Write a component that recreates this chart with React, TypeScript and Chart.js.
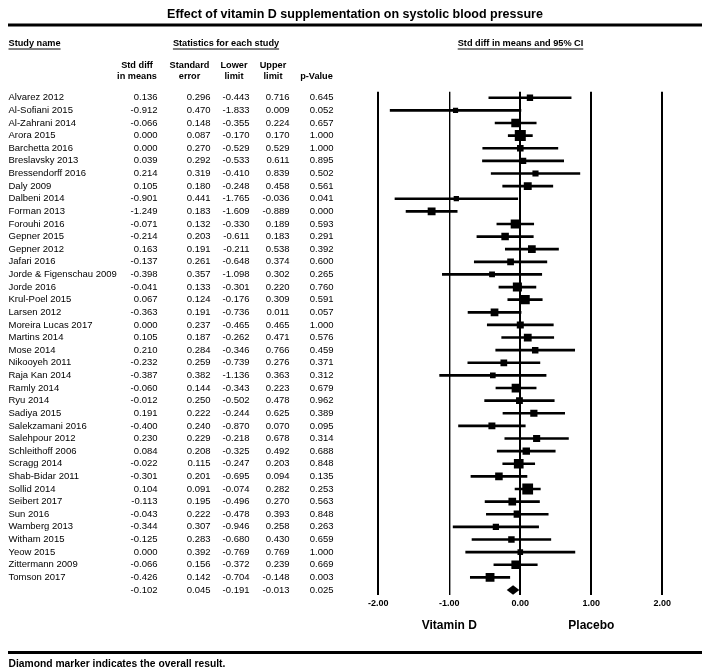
import React, { useEffect, useRef } from "react";
import { Chart, registerables } from "chart.js";

Chart.register(...registerables);

const TITLE = "Effect of vitamin D supplementation on systolic blood pressure";
const FOOTNOTE = "Diamond marker indicates the overall result.";

const studyNames = [
  "Alvarez 2012", "Al-Sofiani 2015", "Al-Zahrani 2014", "Arora 2015", "Barchetta 2016",
  "Breslavsky 2013", "Bressendorff 2016", "Daly 2009", "Dalbeni 2014", "Forman 2013",
  "Forouhi 2016", "Gepner 2015", "Gepner 2012", "Jafari 2016", "Jorde & Figenschau 2009",
  "Jorde 2016", "Krul-Poel 2015", "Larsen 2012", "Moreira Lucas 2017", "Martins 2014",
  "Mose 2014", "Nikooyeh 2011", "Raja Kan 2014", "Ramly 2014", "Ryu 2014",
  "Sadiya 2015", "Salekzamani 2016", "Salehpour 2012", "Schleithoff 2006", "Scragg 2014",
  "Shab-Bidar 2011", "Sollid 2014", "Seibert 2017", "Sun 2016", "Wamberg 2013",
  "Witham 2015", "Yeow 2015", "Zittermann 2009", "Tomson 2017",
];
const stdDiff = [
  0.136, -0.912, -0.066, 0.0, 0.0, 0.039, 0.214, 0.105, -0.901, -1.249,
  -0.071, -0.214, 0.163, -0.137, -0.398, -0.041, 0.067, -0.363, 0.0, 0.105,
  0.21, -0.232, -0.387, -0.06, -0.012, 0.191, -0.4, 0.23, 0.084, -0.022,
  -0.301, 0.104, -0.113, -0.043, -0.344, -0.125, 0.0, -0.066, -0.426,
];
const stdError = [
  0.296, 0.47, 0.148, 0.087, 0.27, 0.292, 0.319, 0.18, 0.441, 0.183,
  0.132, 0.203, 0.191, 0.261, 0.357, 0.133, 0.124, 0.191, 0.237, 0.187,
  0.284, 0.259, 0.382, 0.144, 0.25, 0.222, 0.24, 0.229, 0.208, 0.115,
  0.201, 0.091, 0.195, 0.222, 0.307, 0.283, 0.392, 0.156, 0.142,
];
const lowerLimit = [
  -0.443, -1.833, -0.355, -0.17, -0.529, -0.533, -0.41, -0.248, -1.765, -1.609,
  -0.33, -0.611, -0.211, -0.648, -1.098, -0.301, -0.176, -0.736, -0.465, -0.262,
  -0.346, -0.739, -1.136, -0.343, -0.502, -0.244, -0.87, -0.218, -0.325, -0.247,
  -0.695, -0.074, -0.496, -0.478, -0.946, -0.68, -0.769, -0.372, -0.704,
];
const upperLimit = [
  0.716, 0.009, 0.224, 0.17, 0.529, 0.611, 0.839, 0.458, -0.036, -0.889,
  0.189, 0.183, 0.538, 0.374, 0.302, 0.22, 0.309, 0.011, 0.465, 0.471,
  0.766, 0.276, 0.363, 0.223, 0.478, 0.625, 0.07, 0.678, 0.492, 0.203,
  0.094, 0.282, 0.27, 0.393, 0.258, 0.43, 0.769, 0.239, -0.148,
];
const pValue = [
  0.645, 0.052, 0.657, 1.0, 1.0, 0.895, 0.502, 0.561, 0.041, 0.0,
  0.593, 0.291, 0.392, 0.6, 0.265, 0.76, 0.591, 0.057, 1.0, 0.576,
  0.459, 0.371, 0.312, 0.679, 0.962, 0.389, 0.095, 0.314, 0.688, 0.848,
  0.135, 0.253, 0.563, 0.848, 0.263, 0.659, 1.0, 0.669, 0.003,
];
// overall: std diff, standard error, lower, upper, p
const overallStats = [-0.102, 0.045, -0.191, -0.013, 0.025];

const xTicks = [-2, -1, 0, 1, 2];
const xTickLabels = ["-2.00", "-1.00", "0.00", "1.00", "2.00"];
const favourLabels = ["Vitamin D", "Placebo"];
const favourAt = [-1, 1];

const colHeaders1 = ["Std diff", "Standard", "Lower", "Upper", ""];
const colHeaders2 = ["in means", "error", "limit", "limit", "p-Value"];

const W = 708;
const H = 671;
const FONT = '"Liberation Sans", Arial, sans-serif';
const colRight = [157.5, 210.5, 249.5, 289.5, 333.5];
const colCenter = [137, 189.5, 234, 273, 316.5];

function markerSide(se: number) {
  return 11 * Math.pow(0.087 / se, 0.45);
}

const tablePlugin = {
  id: "forestTable",
  afterDatasetsDraw(chart: any) {
    const { ctx, scales } = chart;
    const x = scales.x;
    const y = scales.y;
    const n = studyNames.length;
    // diamond for overall result
    const yc = y.getPixelForValue(n);
    const yt = y.getPixelForValue(n - 0.38);
    const yb = y.getPixelForValue(n + 0.38);
    ctx.save();
    ctx.fillStyle = "#000";
    ctx.beginPath();
    ctx.moveTo(x.getPixelForValue(overallStats[2]), yc);
    ctx.lineTo(x.getPixelForValue(overallStats[0]), yt);
    ctx.lineTo(x.getPixelForValue(overallStats[3]), yc);
    ctx.lineTo(x.getPixelForValue(overallStats[0]), yb);
    ctx.closePath();
    ctx.fill();
    ctx.restore();
  },
  afterDraw(chart: any) {
    const { ctx, scales } = chart;
    const x = scales.x;
    const y = scales.y;
    ctx.save();
    ctx.fillStyle = "#000";
    ctx.strokeStyle = "#000";
    ctx.textBaseline = "middle";

    // title
    ctx.font = `bold 12.5px ${FONT}`;
    ctx.textAlign = "center";
    ctx.fillText(TITLE, 355, 15);
    ctx.fillRect(8, 23.5, 694, 3);

    // section headers
    ctx.font = `bold 9.2px ${FONT}`;
    const underline = (t: string, cx: number, cy: number, align: string) => {
      ctx.textAlign = align;
      ctx.fillText(t, cx, cy);
      const w = ctx.measureText(t).width;
      const x0 = align === "left" ? cx : cx - w / 2;
      ctx.fillRect(x0, cy + 5, w, 1);
    };
    underline("Study name", 8.5, 43.5, "left");
    underline("Statistics for each study", 226, 43.5, "center");
    underline("Std diff in means and 95% CI", 520.5, 43.5, "center");

    ctx.textAlign = "center";
    for (let c = 0; c < 5; c++) {
      if (colHeaders1[c]) ctx.fillText(colHeaders1[c], colCenter[c], 65);
      ctx.fillText(colHeaders2[c], colCenter[c], 76.5);
    }

    // rows
    ctx.font = `9.5px ${FONT}`;
    const fmt = (v: number) => v.toFixed(3);
    for (let i = 0; i < studyNames.length; i++) {
      const py = y.getPixelForValue(i);
      ctx.textAlign = "left";
      ctx.fillText(studyNames[i], 8.5, py);
      ctx.textAlign = "right";
      const vals = [stdDiff[i], stdError[i], lowerLimit[i], upperLimit[i], pValue[i]];
      vals.forEach((v, c) => ctx.fillText(fmt(v), colRight[c], py));
    }
    const py = y.getPixelForValue(studyNames.length);
    ctx.textAlign = "right";
    overallStats.forEach((v, c) => ctx.fillText(fmt(v), colRight[c], py));

    // axis tick labels
    ctx.font = `bold 9px ${FONT}`;
    ctx.textAlign = "center";
    xTicks.forEach((t, k) => ctx.fillText(xTickLabels[k], x.getPixelForValue(t), 604));

    ctx.font = `bold 12px ${FONT}`;
    favourLabels.forEach((t, k) => ctx.fillText(t, x.getPixelForValue(favourAt[k]), 626));

    // bottom rule + footnote
    ctx.fillRect(8, 651, 694, 3);
    ctx.font = `bold 10.3px ${FONT}`;
    ctx.textAlign = "left";
    ctx.fillText(FOOTNOTE, 8.5, 664);
    ctx.restore();
  },
};

export default function App() {
  const ref = useRef<HTMLCanvasElement | null>(null);
  useEffect(() => {
    if (!ref.current) return;
    const n = studyNames.length;
    const chart = new Chart(ref.current, {
      type: "scatter",
      data: {
        datasets: [
          {
            type: "bar",
            indexAxis: "y",
            data: studyNames.map((_, i) => ({ x: [lowerLimit[i], upperLimit[i]], y: i })),
            backgroundColor: "#000",
            borderWidth: 0,
            barThickness: 2,
            order: 2,
          } as any,
          {
            type: "scatter",
            data: studyNames.map((_, i) => ({ x: stdDiff[i], y: i })),
            pointStyle: "rect",
            pointRadius: stdError.map((se) => markerSide(se) / Math.SQRT2),
            pointBackgroundColor: "#000",
            pointBorderWidth: 0,
            pointBorderColor: "#000",
            order: 1,
          } as any,
        ],
      },
      options: {
        responsive: false,
        animation: false,
        devicePixelRatio: 1,
        layout: { padding: { left: 378.3, right: 45.7, top: 91.7, bottom: 76 } },
        plugins: { legend: { display: false }, tooltip: { enabled: false } },
        scales: {
          x: {
            type: "linear",
            min: -2,
            max: 2,
            offset: false,
            beginAtZero: false,
            ticks: { display: false, stepSize: 1 },
            grid: {
              color: "#000",
              drawTicks: false,
              offset: false,
              lineWidth: (c: any) => (c.tick && c.tick.value === -1 ? 1.4 : 2),
            },
            border: { display: false },
          },
          y: {
            type: "linear",
            display: false,
            reverse: true,
            offset: false,
            grid: { offset: false },
            min: -0.48,
            max: n + 0.4,
          },
        },
      } as any,
      plugins: [tablePlugin as any],
    });
    return () => chart.destroy();
  }, []);
  return (
    <div style={{ position: "absolute", left: 0, top: 0, width: W, height: H, background: "#fff" }}>
      <canvas ref={ref} width={W} height={H} />
    </div>
  );
}
